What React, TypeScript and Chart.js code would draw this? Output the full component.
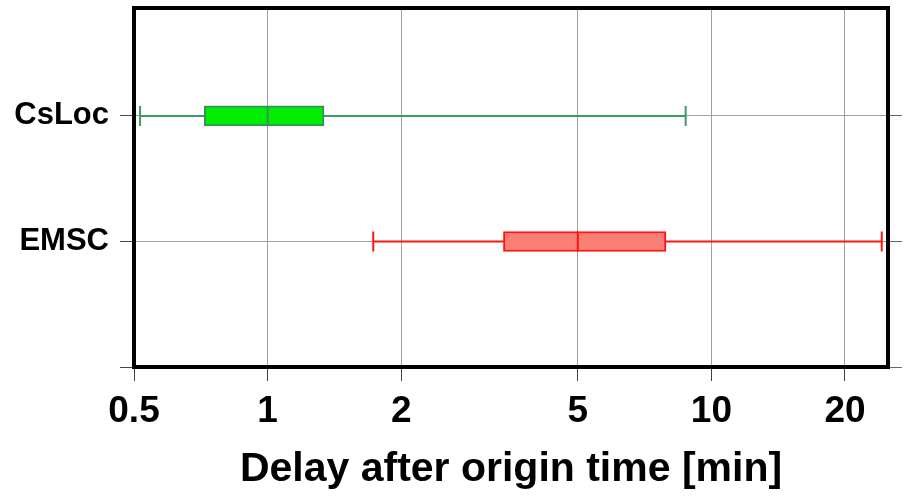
import React, { useEffect, useRef } from "react";
import { Chart, registerables } from "chart.js";

Chart.register(...registerables);

// ---- data ----
const categories = ["EMSC", "CsLoc"];
const categoryPos = [1, 2];
const whiskerLow = [1.73, 0.516];
const q1 = [3.4, 0.72];
const median = [5.0, 1.0];
const q3 = [7.9, 1.34];
const whiskerHigh = [24.2, 8.75];
const xTicks = [0.5, 1, 2, 5, 10, 20];
const xTickLabels = ["0.5", "1", "2", "5", "10", "20"];
const yTicks = [0, 1, 2];
const xTitle = "Delay after origin time [min]";

// ---- styles ----
const fillColors = ["#fa7f74", "#00ee00"];
const edgeColors = ["#ff1414", "#3a8f5e"];
const whiskerColors = ["#ff1414", "#3a9a6a"];
const FONT = "'Liberation Sans', Arial, Helvetica, sans-serif";

const frame = {
  id: "frame",
  afterDraw(chart: any) {
    const { ctx, chartArea } = chart;
    ctx.save();
    ctx.strokeStyle = "#000";
    ctx.lineWidth = 4;
    ctx.strokeRect(
      chartArea.left,
      chartArea.top,
      chartArea.right - chartArea.left,
      chartArea.bottom - chartArea.top
    );
    ctx.restore();
  },
};

export default function App() {
  const ref = useRef<HTMLCanvasElement | null>(null);

  useEffect(() => {
    if (!ref.current) return;
    const datasets: any[] = [];
    categories.forEach((c, i) => {
      datasets.push({
        type: "scatter",
        label: c + " whisker",
        data: [
          { x: whiskerLow[i], y: categoryPos[i] },
          { x: whiskerHigh[i], y: categoryPos[i] },
        ],
        showLine: true,
        borderColor: whiskerColors[i],
        borderWidth: 2,
        pointStyle: "line",
        rotation: 90,
        pointRadius: 10,
        pointBorderWidth: 2,
        pointBorderColor: whiskerColors[i],
        order: 3,
      });
    });
    datasets.push({
      type: "bar",
      label: "boxes",
      indexAxis: "y",
      data: categories.map((c, i) => ({ x: [q1[i], q3[i]], y: categoryPos[i] })),
      backgroundColor: fillColors,
      borderColor: edgeColors,
      borderWidth: 2,
      borderSkipped: false,
      barThickness: 20,
      grouped: false,
      order: 2,
    });
    datasets.push({
      type: "scatter",
      label: "median",
      data: categories.map((c, i) => ({ x: median[i], y: categoryPos[i] })),
      pointStyle: "line",
      rotation: 90,
      pointRadius: 10,
      pointBorderWidth: 2,
      pointBorderColor: edgeColors,
      order: 1,
    });

    const yTickLabel = (v: number) => {
      const idx = categoryPos.indexOf(v);
      return idx >= 0 ? categories[idx] : "";
    };

    const chart = new Chart(ref.current, {
      type: "scatter",
      data: { datasets },
      plugins: [frame],
      options: {
        animation: false,
        responsive: false,
        devicePixelRatio: 1,
        layout: { autoPadding: false, padding: { top: 8, left: 0, right: 0, bottom: 0 } },
        plugins: { legend: { display: false }, tooltip: { enabled: false } },
        scales: {
          x: {
            type: "logarithmic",
            position: "bottom",
            min: 0.5,
            max: 25,
            offset: false,
            afterBuildTicks: (s: any) => {
              s.ticks = xTicks.map((v) => ({ value: v }));
            },
            afterFit: (s: any) => {
              s.height = 131;
              s.paddingLeft = 0;
              s.paddingRight = 0;
            },
            ticks: {
              autoSkip: false,
              maxRotation: 0,
              padding: 9,
              color: "#000",
              font: { family: FONT, weight: "bold", size: 37 },
              callback: (v: any, i: number) => xTickLabels[i],
            },
            grid: {
              color: "#a0a0a0",
              lineWidth: 1,
              tickLength: 14,
              tickColor: "#444",
              offset: false,
            },
            border: { display: false },
            title: {
              display: true,
              text: xTitle,
              color: "#000",
              font: { family: FONT, weight: "bold", size: 41 },
              padding: { top: 0, bottom: 4 },
            },
          },
          y: {
            type: "linear",
            position: "left",
            min: 0,
            max: 2.86,
            offset: false,
            afterBuildTicks: (s: any) => {
              s.ticks = yTicks.map((v) => ({ value: v }));
            },
            afterFit: (s: any) => {
              s.width = 134;
              s.paddingTop = 0;
              s.paddingBottom = 0;
            },
            ticks: {
              padding: 11,
              color: "#000",
              font: { family: FONT, weight: "bold", size: 31 },
              callback: (v: any) => yTickLabel(Number(v)),
            },
            grid: {
              color: "#a0a0a0",
              lineWidth: 1,
              tickLength: 14,
              tickColor: "#444",
              offset: false,
            },
            border: { display: false },
          },
          y2: {
            type: "linear",
            position: "right",
            min: 0,
            max: 2.86,
            afterBuildTicks: (s: any) => {
              s.ticks = yTicks.map((v) => ({ value: v }));
            },
            afterFit: (s: any) => {
              s.width = 16;
              s.paddingTop = 0;
              s.paddingBottom = 0;
            },
            ticks: { display: false },
            grid: {
              drawOnChartArea: false,
              tickLength: 14,
              tickColor: "#666",
            },
            border: { display: false },
          },
        },
      } as any,
    });
    return () => chart.destroy();
  }, []);

  return (
    <div style={{ position: "absolute", left: 0, top: 0, width: 904, height: 498, background: "#fff" }}>
      <canvas ref={ref} width={904} height={498} style={{ display: "block" }} />
    </div>
  );
}
